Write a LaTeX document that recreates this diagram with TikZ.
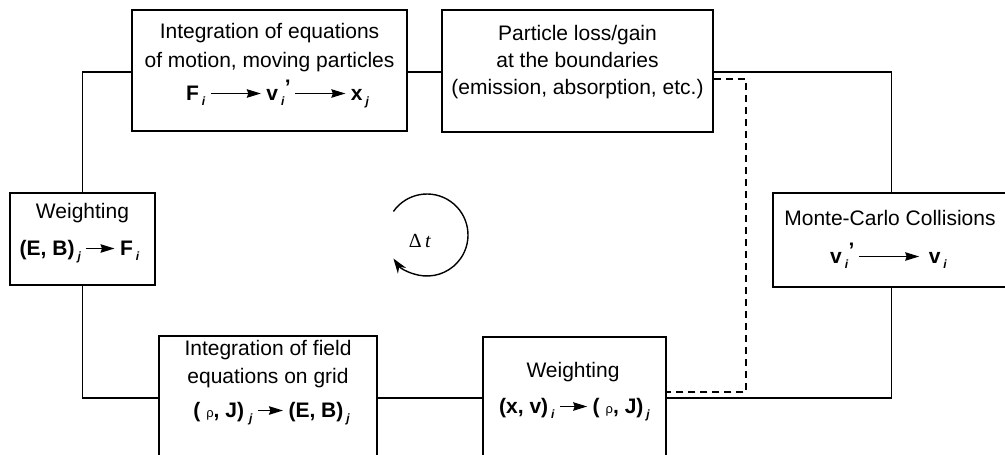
\documentclass[tikz,border=0pt]{standalone}
\usepackage{fontspec}
\setmainfont{Liberation Sans}
\newfontfamily\seriffont{Liberation Serif}
\usetikzlibrary{arrows.meta}
\newcommand\sbs[1]{\kern3pt\raisebox{-5pt}{\fontsize{12}{12}\selectfont\bfseries\itshape #1}\kern1pt}
\newcommand\prm{\kern-0.5pt\raisebox{6pt}{\bfseries ’}}
\newcommand\rar[1]{\kern4pt\tikz[baseline=0pt]\draw[line width=1.2pt,-{Stealth[length=14pt,width=8.5pt,inset=1.5pt]}] (0pt,6.5pt)--(#1,6.5pt);\kern5pt}
\newcommand\rh{{\fontsize{13}{13}\selectfont\mdseries ρ}}
\begin{document}
\begin{tikzpicture}[x=1pt,y=-1pt,
  box/.style={draw, line width=1.5pt, inner sep=0pt},
  txt/.style={inner sep=0pt, anchor=base, font=\fontsize{21}{26}\selectfont},
  wire/.style={line width=1.3pt},
  dashwire/.style={line width=1.3pt, dash pattern=on 7pt off 5pt}]
\clip (0,0) rectangle (1005,455);
\fill[white] (0,0) rectangle (1005,455);
% boxes
\node[box, minimum width=275pt, minimum height=121pt] (eqm) at (269.5,70.5) {};
\node[box, minimum width=271pt, minimum height=122pt] (loss) at (577.5,71) {};
\node[box, minimum width=145pt, minimum height=92pt] (wl) at (82.5,239) {};
\node[box, minimum width=237pt, minimum height=94pt] (mc) at (891.5,240) {};
\node[box, minimum width=218pt, minimum height=129pt] (field) at (268,400.5) {};
\node[box, minimum width=183pt, minimum height=128pt] (wr) at (574.5,401) {};
% texts
\node[txt] (eqm1) at (269.5,38) {Integration of equations};
\node[txt] (eqm2) at (269.5,67) {of motion, moving particles};
\node[txt] (eqm3) at (278,100) {\textbf{F}\sbs{i}\rar{50pt}\textbf{v}\sbs{i}\prm\rar{50pt}\textbf{x}\sbs{j}};
\node[txt] (loss1) at (577.5,40) {Particle loss/gain};
\node[txt] (loss2) at (577.5,67) {at the boundaries};
\node[txt] (loss3) at (577.5,94) {(emission, absorption, etc.)};
\node[txt] (wl1) at (82.5,218) {Weighting};
\node[txt] (wl2) at (80,255) {\textbf{(E, B)}\sbs{j}\rar{28pt}\textbf{F}\sbs{i}};
\node[txt] (mc1) at (890,225) {Monte-Carlo Collisions};
\node[txt] (mc2) at (889,263) {\textbf{v}\sbs{i}\prm\rar{60pt}\kern4pt\textbf{v}\sbs{i}};
\node[txt] (field1) at (268,355) {Integration of field};
\node[txt] (field2) at (268,383) {equations on grid};
\node[txt] (field3) at (272,417) {\textbf{(}\kern6pt\rh\textbf{, J)}\kern2pt\sbs{j}\rar{25pt}\textbf{(E, B)}\sbs{j}};
\node[txt] (wr1) at (573,377) {Weighting};
\node[txt] (wr2) at (575,413) {\textbf{(x, v)}\sbs{i}\rar{27pt}\textbf{(}\kern6pt\rh\textbf{, J)}\sbs{j}};
% cycle
\draw[line width=1.4pt, -{Stealth[length=15pt,width=10pt]}] ([shift={(-145:41)}]427,235) arc[start angle=-145, end angle=145, radius=41];
\node[inner sep=0pt, anchor=base, font=\seriffont\fontsize{20}{20}\selectfont] (dt) at (420,247) {Δ\,\textit{t}};
% connectors
\coordinate (rowA) at (0,72);
\coordinate (rowB) at (0,398);
\coordinate (dA) at (0,79);
\coordinate (dB) at (746,392);
\draw[wire] (eqm.west |- rowA) -| (wl.north);
\draw[wire] (wl.south) |- (field.west |- rowB);
\draw[wire] (field.east |- rowB) -- (wr.west |- rowB);
\draw[wire] (wr.east |- rowB) -| (mc.south);
\draw[wire] (mc.north) |- (loss.east |- rowA);
\draw[wire] (loss.west |- rowA) -- (eqm.east |- rowA);
\draw[dashwire] (loss.east |- dA) -| (dB) -- (wr.east |- dB);
\end{tikzpicture}
\end{document}
